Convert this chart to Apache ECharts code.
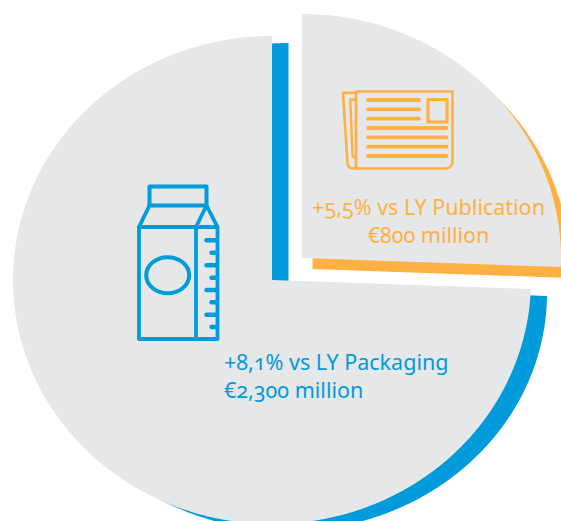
<!DOCTYPE html>
<html>
<head>
<meta charset="utf-8">
<style>
html,body{margin:0;padding:0;background:#fff;overflow:hidden}
#c{width:561px;height:521px}
#c text{font-feature-settings:"onum" 1,"lnum" 0 !important;font-variant-numeric:oldstyle-nums !important}
</style>
<script src="https://cdn.jsdelivr.net/npm/echarts@6/dist/echarts.min.js"></script>
</head>
<body>
<div id="c"></div>
<script>
const segments = ['Publication', 'Packaging'];
const values = [800, 2300];
const changes = ['+5,5%', '+8,1%'];
const amounts = ['€800 million', '€2,300 million'];
const comparison = 'vs LY';

const BLUE = '#009BDA', ORANGE = '#FFB043', GREY = '#E6E7E8';
const total = values[0] + values[1];
const split = values[0] / total * 360 - 0.8;   // drawn boundary between the two slices, degrees from 12 o'clock

// seg = index into values; each entry is one drawn sector layer
const layers = [
  {seg: 1, ax: 288.5, ay: 287, cx: 288.5, cy: 293, rx: 258.5, up: 250, down: 238, trim: -1.4, color: BLUE},
  {seg: 0, ax: 312.5, ay: 269, cx: 312.5, cy: 269, rx: 257.5, up: 246, down: 246, trim: 0, color: ORANGE},
  {seg: 1, ax: 272, ay: 280, cx: 272, cy: 280, rx: 259, up: 244, down: 244, trim: 0, color: GREY},
  {seg: 0, ax: 302, ay: 258, cx: 302, cy: 258, rx: 259, up: 244, down: 244, trim: 0, color: GREY}
];

function sectorPoints(l) {
  const from = l.seg === 0 ? 0 : split + l.trim;
  const to = l.seg === 0 ? split + l.trim : 360;
  const pts = [[l.ax, l.ay]];
  const n = Math.ceil((to - from) * 2);
  for (let i = 0; i <= n; i++) {
    const t = (from + (to - from) * i / n) * Math.PI / 180;
    const c = Math.cos(t);
    pts.push([l.cx + l.rx * Math.sin(t), l.cy - (c > 0 ? l.up : l.down) * c]);
  }
  return pts;
}

const ln = (x1, y1, x2, y2, w, color) => ({
  type: 'line', shape: {x1, y1, x2, y2},
  style: {stroke: color, lineWidth: w, lineCap: 'round', fill: null}
});
const pl = (points, w, color) => ({
  type: 'polyline', shape: {points},
  style: {stroke: color, lineWidth: w, fill: null, lineJoin: 'round', lineCap: 'round'}
});

const carton = [
  pl([[149.5,186.5],[206.5,186.5],[206.5,205.5],[149.5,205.5],[149.5,186.5]], 4, BLUE),
  pl([[149.5,205.5],[139,227],[217.5,227],[206.5,205.5],[196,227]], 3.8, BLUE),
  pl([[139,227],[139,339],[217.5,339],[217.5,227]], 3.8, BLUE),
  pl([[196,227],[196,339]], 3.8, BLUE),
  {type: 'ellipse', shape: {cx: 167.7, cy: 275.3, rx: 21.5, ry: 18},
   style: {stroke: BLUE, lineWidth: 4, fill: null}}
];
[240.3, 265.3, 290, 314.7].forEach(y => carton.push(ln(206.5, y, 217, y, 4.4, BLUE)));
[252.7, 277.7, 302.3, 327].forEach(y => carton.push(ln(211.5, y, 217, y, 4.4, BLUE)));

const news = [
  pl([[356,91.5],[452.5,91.5],[452.5,162],[451.5,165.5],[449,167.7],[446,168.5],[356,168.5],[356,91.5]], 2.6, ORANGE),
  pl([[356,92.8],[343,92.8],[347.4,163],[348.6,166.5],[350.5,168],[353,168.5],[356,168.5]], 2.6, ORANGE),
  pl([[356,99.5],[350.3,99.5],[352.5,155],[353.5,157.5],[356,158]], 2.4, ORANGE),
  {type: 'rect', shape: {x: 428, y: 99.7, width: 19, height: 22.3},
   style: {stroke: ORANGE, lineWidth: 3.2, fill: null}}
];
[100, 109.3, 118.7].forEach(y => news.push(ln(368, y, 419, y, 3.8, ORANGE)));
[128, 137.3, 146.7, 156].forEach(y => news.push(ln(368, y, 446.5, y, 3.8, ORANGE)));

const FONT = '"Noto Sans"';
const txt = (x, y, text, color, align) => ({
  type: 'text', x, y: y - 21,
  style: {text, fill: color, font: '21.5px ' + FONT, textAlign: align, textBaseline: 'alphabetic'}
});
const labels = [
  txt(428.5, 216, changes[0] + ' ' + comparison + ' ' + segments[0], ORANGE, 'center'),
  txt(428.5, 244, amounts[0], ORANGE, 'center'),
  txt(224, 371, changes[1] + ' ' + comparison + ' ' + segments[1], BLUE, 'left'),
  txt(224, 399, amounts[1], BLUE, 'left')
];

const chart = echarts.init(document.getElementById('c'), null, {renderer: 'svg'});
chart.setOption({
  animation: false,
  series: [{
    type: 'custom',
    coordinateSystem: 'none',
    silent: true,
    data: layers.map((l, i) => [i, values[l.seg]]),
    renderItem(params, api) {
      const l = layers[api.value(0)];
      return {type: 'polygon', shape: {points: sectorPoints(l)}, style: {fill: l.color}};
    }
  }],
  graphic: {elements: [...carton, ...news, ...labels].map(e => Object.assign({silent: true, z: 100}, e))}
});
</script>
</body>
</html>
